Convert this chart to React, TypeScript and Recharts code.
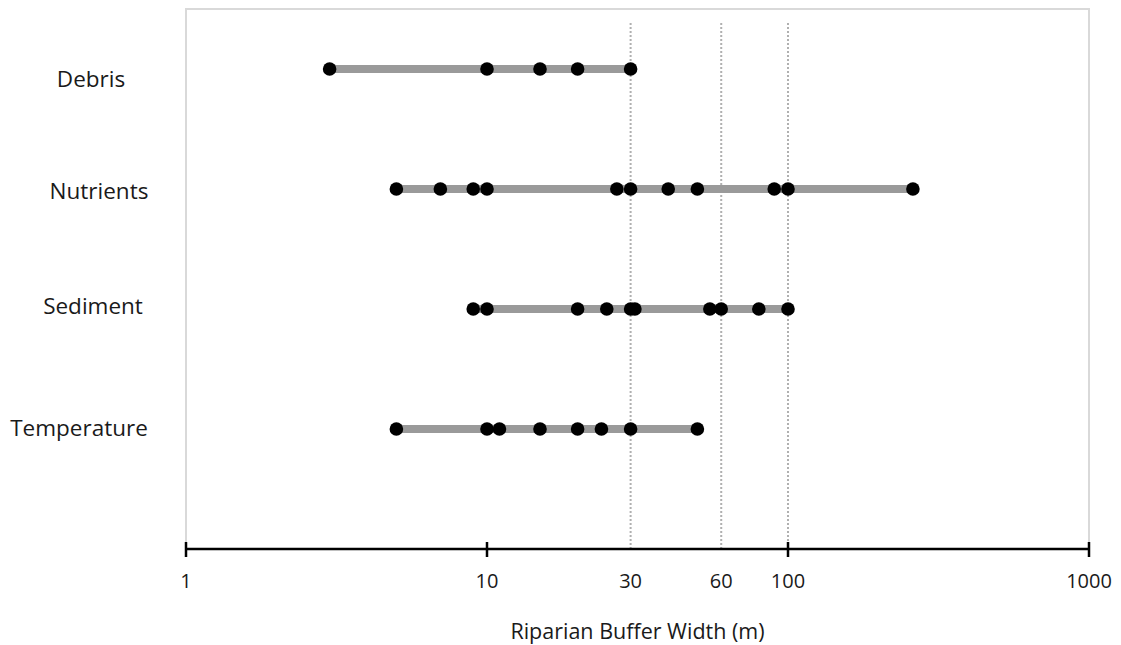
import React from 'react';
import {
  ComposedChart,
  Scatter,
  XAxis,
  YAxis,
  ReferenceLine,
  ReferenceArea,
} from 'recharts';

const categories = ['Debris', 'Nutrients', 'Sediment', 'Temperature'];
const categoryY = [4, 3, 2, 1];

const debris = [3, 10, 15, 20, 30];
const nutrients = [5, 7, 9, 10, 27, 30, 40, 50, 90, 100, 260];
const sediment = [9, 10, 20, 25, 30, 31, 55, 60, 80, 100];
const temperature = [5, 10, 11, 15, 20, 24, 30, 50];

const seriesValues = [debris, nutrients, sediment, temperature];

const xTicks = [1, 10, 30, 60, 100, 1000];
const majorTicks = [1, 10, 100, 1000];
const guideLines = [30, 60, 100];
const xTitle = 'Riparian Buffer Width (m)';

const FONT = '"Open Sans", "DejaVu Sans", sans-serif';
const TEXT = '#1a1a1a';

// label layout (style only)
const labelCenterX: Record<string, number> = {
  Debris: 91,
  Nutrients: 99,
  Sediment: 93,
  Temperature: 79,
};
const labelDy: Record<string, number> = {
  Debris: 10,
  Nutrients: 2,
  Sediment: -3,
  Temperature: -1,
};

const XTick = (props: any) => {
  const { x, y, payload } = props;
  const major = majorTicks.includes(payload.value);
  return (
    <g>
      {major && (
        <line x1={x} x2={x} y1={y - 7} y2={y + 8} stroke="#000" strokeWidth={2.5} />
      )}
      <text
        x={x}
        y={y + 39}
        textAnchor="middle"
        fontSize={20}
        fill={TEXT}
        fontFamily={FONT}
      >
        {payload.value}
      </text>
    </g>
  );
};

const YTick = (props: any) => {
  const { y, payload } = props;
  const idx = categoryY.indexOf(payload.value);
  if (idx < 0) return null;
  const name = categories[idx];
  return (
    <text
      x={labelCenterX[name]}
      y={y + labelDy[name]}
      dy={8}
      textAnchor="middle"
      fontSize={22.5}
      fill={TEXT}
      fontFamily={FONT}
    >
      {name}
    </text>
  );
};

const Dot = (props: any) => {
  const { cx, cy } = props;
  if (cx == null || cy == null) return null;
  return <circle cx={cx} cy={cy} r={6.8} fill="#000" />;
};

export default function App() {
  const seriesData = seriesValues.map((vals, i) =>
    vals.map((v) => ({ x: v, y: categoryY[i] }))
  );
  return (
    <div style={{ position: 'absolute', left: 0, top: 0, fontFamily: FONT }}>
      <ComposedChart
        width={1121}
        height={645}
        margin={{ top: 9, right: 32, bottom: 0, left: 0 }}
      >
        <ReferenceArea
          x1={1}
          x2={1000}
          y1={0}
          y2={4.5}
          fill="none"
          stroke="#d9d9d9"
          strokeWidth={2}
        />
        <XAxis
          dataKey="x"
          type="number"
          scale="log"
          domain={[1, 1000]}
          ticks={xTicks}
          interval={0}
          height={96}
          tickSize={0}
          tickMargin={0}
          tickLine={false}
          axisLine={{ stroke: '#000', strokeWidth: 2.5 }}
          tick={<XTick />}
          label={{
            value: xTitle,
            position: 'insideBottom',
            offset: 6,
            fontSize: 21.5,
            fill: TEXT,
            fontFamily: FONT,
          }}
        />
        <YAxis
          dataKey="y"
          type="number"
          domain={[0, 4.5]}
          ticks={categoryY}
          interval={0}
          width={186}
          axisLine={false}
          tickLine={false}
          tick={<YTick />}
        />
        {seriesData.map((d, i) => (
          <Scatter
            key={categories[i]}
            name={categories[i]}
            data={d}
            line={{ stroke: '#9a9a9a', strokeWidth: 8 }}
            lineType="joint"
            shape={<Dot />}
            isAnimationActive={false}
          />
        ))}
        {guideLines.map((g) => (
          <ReferenceLine
            key={g}
            segment={[
              { x: g, y: 0 },
              { x: g, y: 4.4 },
            ]}
            stroke="#b0b0b0"
            strokeWidth={2}
            strokeDasharray="2 2"
          />
        ))}
      </ComposedChart>
    </div>
  );
}
